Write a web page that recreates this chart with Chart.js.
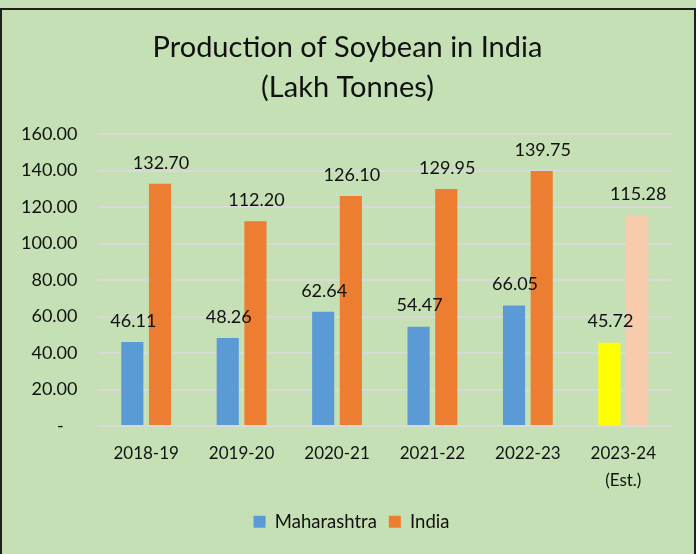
<!DOCTYPE html>
<html>
<head>
<meta charset="utf-8">
<script src="https://cdn.jsdelivr.net/npm/chart.js@4"></script>
<style>
  html, body { margin: 0; padding: 0; background: #C5E0B4; }
  #wrap { position: absolute; left: 0; top: 0; width: 696px; height: 554px; }
  #frame { position: absolute; left: 0; top: 8px; width: 692px; height: 546px;
           border: 2px solid #1f1f1f; border-bottom: none; pointer-events: none; }
</style>
</head>
<body>
<div id="wrap">
  <canvas id="chart" width="696" height="554"></canvas>
  <div id="frame"></div>
</div>
<script>
// data
const years = ["2018-19", "2019-20", "2020-21", "2021-22", "2022-23", ["2023-24", "(Est.)"]];
const maharashtra = [46.11, 48.26, 62.64, 54.47, 66.05, 45.72];
const india = [132.70, 112.20, 126.10, 129.95, 139.75, 115.28];
const yTicks = [0, 20, 40, 60, 80, 100, 120, 140, 160];

const mahColors = ["#5B9BD5", "#5B9BD5", "#5B9BD5", "#5B9BD5", "#5B9BD5", "#FFFF00"];
const indColors = ["#ED7D31", "#ED7D31", "#ED7D31", "#ED7D31", "#ED7D31", "#F8CBAD"];

const FONT = "Lato, 'Noto Sans', sans-serif";

// value labels above bars
const valueLabels = {
    id: "valueLabels",
    afterDatasetsDraw(chart) {
        const ctx = chart.ctx;
        ctx.save();
        ctx.font = "18px " + FONT;
        ctx.fillStyle = "#111";
        ctx.textAlign = "center";
        ctx.textBaseline = "middle";
        chart.data.datasets.forEach((ds, i) => {
            chart.getDatasetMeta(i).data.forEach((bar, j) => {
                ctx.fillText(ds.data[j].toFixed(2), bar.x + 1, bar.y - 21);
            });
        });
        ctx.restore();
    }
};

// title and legend are centred on the whole page, not on the padded area
const recentre = {
    id: "recentre",
    afterLayout(chart) {
        if (chart.titleBlock) { chart.titleBlock.left += 12; chart.titleBlock.right += 12; }
        if (chart.legend) { chart.legend.left += 16; chart.legend.right += 16; }
    }
};

const ctx = document.getElementById("chart").getContext("2d");
new Chart(ctx, {
    type: "bar",
    data: {
        labels: years,
        datasets: [
            { label: "Maharashtra", data: maharashtra, backgroundColor: mahColors,
              categoryPercentage: 0.58, barPercentage: 0.8 },
            { label: "India", data: india, backgroundColor: indColors,
              categoryPercentage: 0.58, barPercentage: 0.8 }
        ]
    },
    options: {
        responsive: false,
        animation: false,
        layout: { padding: { top: 28, left: 0, right: 25, bottom: 13 } },
        plugins: {
            title: {
                display: true,
                text: ["Production of Soybean in India", "(Lakh Tonnes)"],
                color: "#111",
                font: { family: FONT, size: 29, weight: "normal", lineHeight: 1.38 },
                padding: { top: 0, bottom: 26 }
            },
            legend: {
                position: "bottom",
                labels: {
                    color: "#111",
                    font: { family: FONT, size: 18.5 },
                    boxWidth: 12, boxHeight: 12,
                    padding: 12
                }
            },
            tooltip: { enabled: false }
        },
        scales: {
            x: {
                grid: { display: false },
                border: { display: false },
                ticks: { color: "#111", font: { family: FONT, size: 17, lineHeight: 1.6 }, padding: 6, maxRotation: 0 }
            },
            y: {
                min: 0, max: 160,
                afterBuildTicks: axis => { axis.ticks = yTicks.map(v => ({ value: v })); },
                grid: { color: "#D9D9D9", lineWidth: 2, drawTicks: false },
                border: { display: false },
                ticks: {
                    color: "#111",
                    font: { family: FONT, size: 18 },
                    padding: 21,
                    callback: v => v === 0 ? "-   " : v.toFixed(2)
                }
            }
        }
    },
    plugins: [valueLabels, recentre]
});
</script>
</body>
</html>
